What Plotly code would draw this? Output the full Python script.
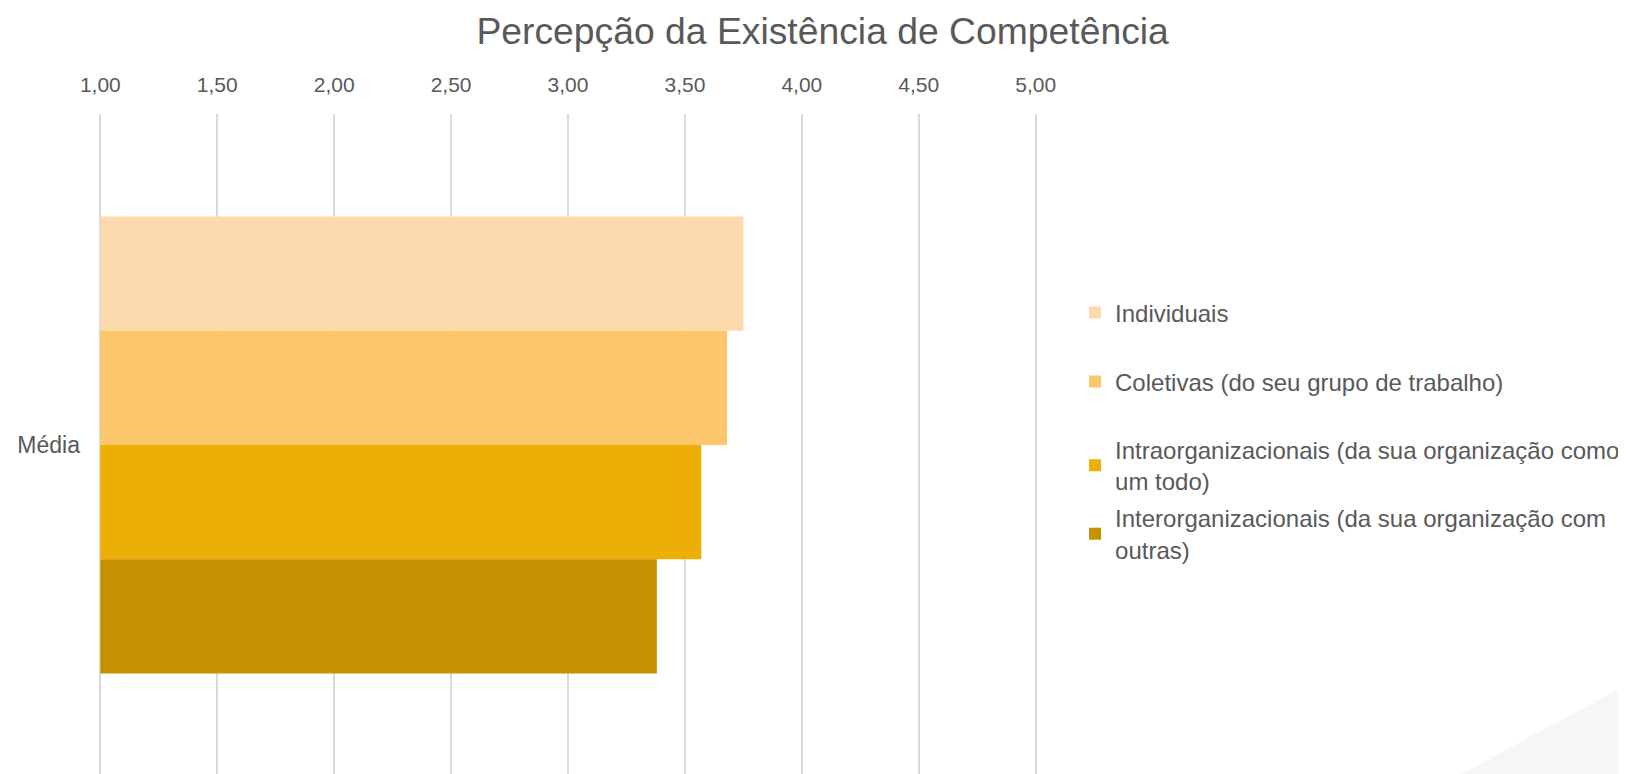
import plotly.graph_objects as go

title = "Percepção da Existência de Competência"
category = ["Média"]
series_names = [
    "Individuais",
    "Coletivas (do seu grupo de trabalho)",
    "Intraorganizacionais (da sua organização como<br>um todo)",
    "Interorganizacionais (da sua organização com<br>outras)",
]
series_values = [3.75, 3.68, 3.57, 3.38]
series_colors = ["#FCDAAD", "#FBC66C", "#EBAF05", "#C59100"]
x_tick_vals = [1.0, 1.5, 2.0, 2.5, 3.0, 3.5, 4.0, 4.5, 5.0]
x_tick_text = ["1,00", "1,50", "2,00", "2,50", "3,00", "3,50", "4,00", "4,50", "5,00"]
axis_min = 1.0

FONT = "Liberation Sans, Arial, sans-serif"
TXT = "#595959"
legend_ids = ["legend", "legend2", "legend3", "legend4"]
legend_y = [0.6994, 0.5952, 0.469, 0.3656]

fig = go.Figure()
for name, val, col, lid in zip(series_names, series_values, series_colors, legend_ids):
    fig.add_trace(go.Bar(
        y=category, x=[val - axis_min], base=[axis_min], name=name, orientation="h",
        marker=dict(color=col, line=dict(width=0)),
        legend=lid,
        hovertemplate=f"{val:.2f}".replace(".", ",") + "<extra></extra>",
    ))

legend_common = dict(x=1.0394, xanchor="left", yanchor="middle", itemwidth=30,
                     font=dict(family=FONT, size=24, color=TXT), bgcolor="rgba(0,0,0,0)")

layout_legends = {}
for lid, ly in zip(legend_ids, legend_y):
    layout_legends[lid] = dict(legend_common, y=ly)

fig.update_layout(
    width=1626, height=774,
    margin=dict(l=90, r=596, t=106, b=6, pad=0),
    paper_bgcolor="white", plot_bgcolor="white",
    barmode="group", bargap=0.31, bargroupgap=0,
    font=dict(family=FONT, color=TXT, size=20),
    title=dict(text=title, x=0.501, xanchor="center", y=1 - 23 / 774, yanchor="middle",
               xref="container", yref="container",
               font=dict(family=FONT, size=37.3, color=TXT)),
    xaxis=dict(range=[0.99, 5.01], side="top", tickvals=x_tick_vals, ticktext=x_tick_text,
               showgrid=True, gridcolor="#D9D9D9", gridwidth=1.5, zeroline=False,
               showline=False, ticks="", ticklabelstandoff=17,
               tickfont=dict(family=FONT, size=21, color=TXT), fixedrange=True),
    yaxis=dict(autorange="reversed", showgrid=False, zeroline=False, showline=False,
               ticks="", ticklabelstandoff=17,
               tickfont=dict(family=FONT, size=23, color=TXT)),
    showlegend=True,
    shapes=[dict(type="path", xref="paper", yref="paper", layer="below",
                 path="M 1.42 -0.02 L 1.65 -0.02 L 1.65 0.156 Z",
                 fillcolor="#F6F5F8", line=dict(width=0))],
    **layout_legends,
)

fig.write_html("out.html")
